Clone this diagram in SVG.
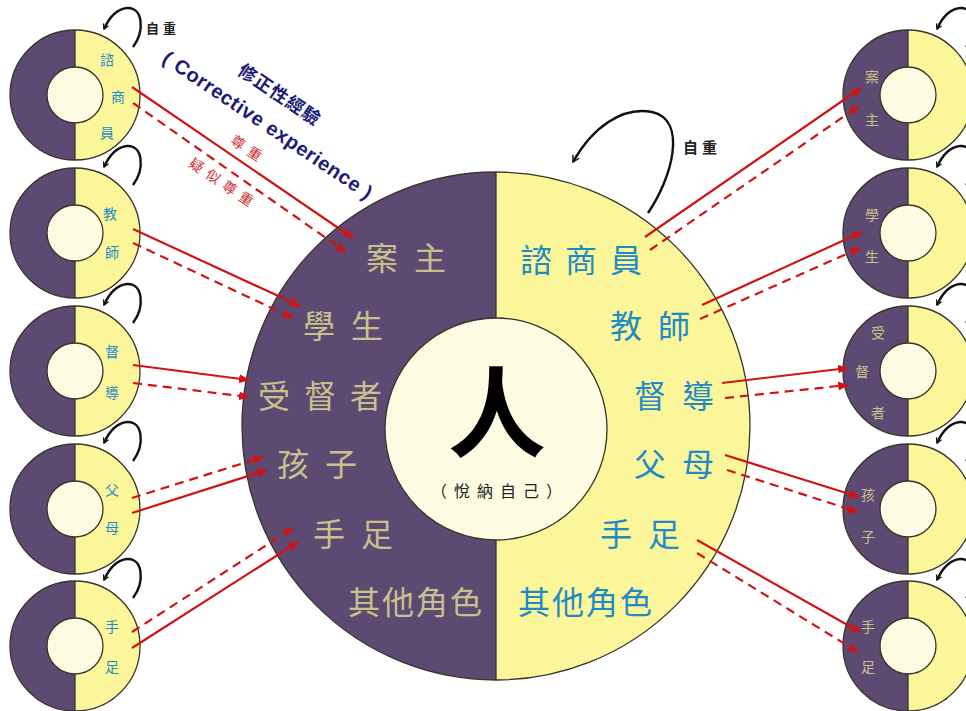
<svg xmlns="http://www.w3.org/2000/svg" width="966" height="711" viewBox="0 0 966 711">
<style>
.pur{fill:#5d4a72}
.yel{fill:#fcf69a}
.inn{fill:#fdfbe2;stroke:#3a3328;stroke-width:1.3}
.rim{fill:none;stroke:#3a3328;stroke-width:1.3}
.div{stroke:#3a3328;stroke-width:1.3}
.cjk{font-family:"Noto Sans CJK TC","Noto Sans CJK SC",sans-serif}
.big{font-size:32px;letter-spacing:16px}
.other{letter-spacing:2px}
.kh{fill:#c9c18c}
.bl{fill:#1f8bc6}
.sm{font-size:14px}
.self{fill:none;stroke:#111;stroke-width:2.4;marker-end:url(#open)}
.ra{stroke:#d01414;stroke-width:2.2;fill:none;marker-end:url(#tri)}
.dash{stroke-dasharray:9,6}
</style>
<defs>
<marker id="open" viewBox="0 0 10 10" refX="8" refY="5" markerWidth="7" markerHeight="7" orient="auto" markerUnits="userSpaceOnUse">
<path d="M1,1 L8,5 L1,9" fill="none" stroke="#111" stroke-width="1.8"/>
</marker>
<marker id="open2" viewBox="0 0 10 10" refX="8" refY="5" markerWidth="9" markerHeight="9" orient="auto" markerUnits="userSpaceOnUse">
<path d="M1,1 L8,5 L1,9" fill="none" stroke="#111" stroke-width="1.6"/>
</marker>
<marker id="tri" viewBox="0 0 10 10" refX="9" refY="5" markerWidth="11" markerHeight="11" orient="auto" markerUnits="userSpaceOnUse">
<path d="M0,1 L10,5 L0,9 Z" fill="#d01414"/>
</marker>
<g id="disc">
<path class="pur" d="M0,-65 A65,65 0 0 0 0,65 Z"/>
<path class="yel" d="M0,-65 A65,65 0 0 1 0,65 Z"/>
<circle class="rim" r="65"/>
<line class="div" x1="0" y1="-65" x2="0" y2="65"/>
<circle class="inn" r="28"/>
<path class="self" d="M58,-48 C70,-64 68,-88 52,-87 C42,-86 34,-77 29,-66"/>
</g>
</defs>
<rect width="966" height="711" fill="#ffffff"/>

<g id="center">
<path class="pur" d="M496,172 A254,254 0 0 0 496,680 Z"/>
<path class="yel" d="M496,172 A254,254 0 0 1 496,680 Z"/>
<circle class="rim" cx="496" cy="426" r="254"/>
<line class="div" x1="496" y1="172" x2="496" y2="680"/>
<circle class="inn" cx="496" cy="429" r="111"/>
<text class="cjk" x="497" y="449" font-size="98" font-weight="bold" text-anchor="middle" fill="#000">人</text>
<text class="cjk" x="500" y="497" font-size="16" letter-spacing="7" text-anchor="middle" fill="#222">（悅納自己）</text>
<g class="cjk big kh">
<text x="366" y="270">案主</text>
<text x="303" y="338">學生</text>
<text x="258" y="408" letter-spacing="14">受督者</text>
<text x="277" y="476">孩子</text>
<text x="313" y="546">手足</text>
<text x="348" y="614" class="other">其他角色</text>
</g>
<g class="cjk big bl">
<text x="520" y="272" letter-spacing="13">諮商員</text>
<text x="610" y="338">教師</text>
<text x="634" y="408">督導</text>
<text x="634" y="476">父母</text>
<text x="600" y="546">手足</text>
<text x="518" y="614" class="other">其他角色</text>
</g>
<path fill="none" stroke="#111" stroke-width="2.4" marker-end="url(#open2)" d="M648,213 C672,178 688,120 652,112 C622,106 592,128 573,162"/>
<text class="cjk" x="683" y="153" font-size="15" font-weight="bold" letter-spacing="4" fill="#222">自重</text>
</g>

<g id="left-counselor"><use href="#disc" x="75" y="95"/>
<g class="cjk sm bl" text-anchor="middle"><text x="107" y="65">諮</text><text x="118" y="102">商</text><text x="107" y="138">員</text></g></g>
<g id="left-teacher"><use href="#disc" x="75" y="233"/>
<g class="cjk sm bl" text-anchor="middle"><text x="110" y="219">教</text><text x="112" y="258">師</text></g></g>
<g id="left-supervisor"><use href="#disc" x="75" y="371"/>
<g class="cjk sm bl" text-anchor="middle"><text x="112" y="357">督</text><text x="112" y="398">導</text></g></g>
<g id="left-parents"><use href="#disc" x="75" y="509"/>
<g class="cjk sm bl" text-anchor="middle"><text x="112" y="495">父</text><text x="112" y="533">母</text></g></g>
<g id="left-siblings"><use href="#disc" x="75" y="646"/>
<g class="cjk sm bl" text-anchor="middle"><text x="112" y="632">手</text><text x="112" y="672">足</text></g></g>
<text class="cjk" x="146" y="33" font-size="13" font-weight="bold" letter-spacing="4" fill="#222">自重</text>

<g id="right-client"><use href="#disc" x="908" y="95"/>
<g class="cjk sm kh" text-anchor="middle"><text x="872" y="82">案</text><text x="872" y="125">主</text></g></g>
<g id="right-student"><use href="#disc" x="908" y="233"/>
<g class="cjk sm kh" text-anchor="middle"><text x="872" y="220">學</text><text x="872" y="262">生</text></g></g>
<g id="right-supervisee"><use href="#disc" x="908" y="371"/>
<g class="cjk sm kh" text-anchor="middle"><text x="878" y="338">受</text><text x="862" y="377">督</text><text x="878" y="418">者</text></g></g>
<g id="right-child"><use href="#disc" x="908" y="509"/>
<g class="cjk sm kh" text-anchor="middle"><text x="868" y="500">孩</text><text x="868" y="542">子</text></g></g>
<g id="right-sibling"><use href="#disc" x="908" y="646"/>
<g class="cjk sm kh" text-anchor="middle"><text x="868" y="632">手</text><text x="868" y="672">足</text></g></g>

<g id="labels">
<text transform="translate(276,100) rotate(34)" class="cjk" font-size="18" font-weight="bold" text-anchor="middle" fill="#1c1c78" letter-spacing="1">修正性經驗</text>
<text transform="translate(264,131) rotate(34)" font-family="Liberation Sans, Arial, sans-serif" font-size="20" font-weight="bold" text-anchor="middle" fill="#1c1c78" letter-spacing="0.6">( Corrective experience )</text>
<text transform="translate(246,154) rotate(34)" class="cjk" font-size="14" text-anchor="middle" fill="#d03030" letter-spacing="6">尊重</text>
<text transform="translate(221,188) rotate(34)" class="cjk" font-size="14" text-anchor="middle" fill="#d03030" letter-spacing="6">疑似尊重</text>
</g>

<g id="connectors">
<line class="ra" x1="132" y1="87" x2="353" y2="238"/>
<line class="ra dash" x1="133" y1="103" x2="346" y2="252"/>
<line class="ra" x1="133" y1="229" x2="300" y2="306"/>
<line class="ra dash" x1="133" y1="243" x2="293" y2="318"/>
<line class="ra" x1="133" y1="365" x2="249" y2="380"/>
<line class="ra dash" x1="133" y1="383" x2="249" y2="397"/>
<line class="ra dash" x1="132" y1="498" x2="263" y2="457"/>
<line class="ra" x1="132" y1="513" x2="267" y2="470"/>
<line class="ra dash" x1="132" y1="632" x2="293" y2="528"/>
<line class="ra" x1="132" y1="648" x2="298" y2="542"/>

<line class="ra" x1="645" y1="237" x2="861" y2="88"/>
<line class="ra dash" x1="650" y1="250" x2="859" y2="106"/>
<line class="ra" x1="702" y1="305" x2="862" y2="232"/>
<line class="ra dash" x1="700" y1="319" x2="860" y2="248"/>
<line class="ra" x1="722" y1="383" x2="848" y2="368"/>
<line class="ra dash" x1="725" y1="398" x2="848" y2="385"/>
<line class="ra" x1="725" y1="455" x2="859" y2="497"/>
<line class="ra dash" x1="727" y1="470" x2="858" y2="512"/>
<line class="ra" x1="697" y1="540" x2="860" y2="632"/>
<line class="ra dash" x1="697" y1="553" x2="858" y2="652"/>
</g>
</svg>
